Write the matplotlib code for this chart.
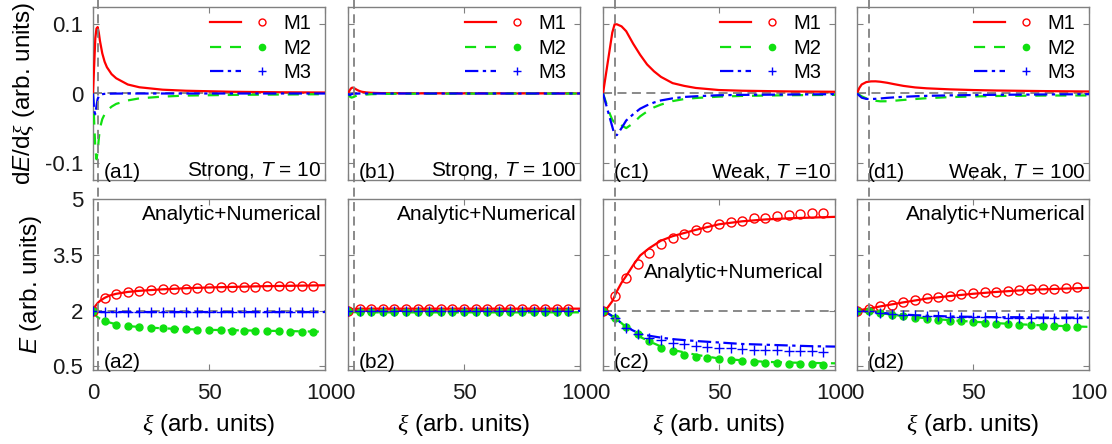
import numpy as np
import matplotlib
matplotlib.use("Agg")
import matplotlib.pyplot as plt
from matplotlib.lines import Line2D
from matplotlib.legend_handler import HandlerTuple
from matplotlib.transforms import blended_transform_factory

plt.rcParams["font.family"] = ["Liberation Sans", "DejaVu Sans"]
plt.rcParams["mathtext.fontset"] = "custom"
plt.rcParams["mathtext.rm"] = "Liberation Sans"
plt.rcParams["mathtext.it"] = "Liberation Sans:italic"
plt.rcParams["mathtext.sf"] = "Liberation Serif:italic"

FS_TICK = 16
FS_LABEL = 17.5
FS_TEXT = 15
FS_LEG = 14.5

# ---- top row: dE/dxi, analytic curves ----
xi_a1 = [0, 0.5, 1, 1.5, 2, 2.5, 3, 4, 5, 6, 8, 10, 15, 20, 30, 40, 60, 80, 100]
a1_m1 = [0, 0.04, 0.08, 0.094, 0.096, 0.088, 0.076, 0.058, 0.046, 0.038, 0.028,
         0.022, 0.013, 0.009, 0.0055, 0.004, 0.0025, 0.0018, 0.0014]
a1_m2 = [0, -0.04, -0.08, -0.095, -0.085, -0.065, -0.05, -0.037, -0.03, -0.025,
         -0.019, -0.015, -0.01, -0.007, -0.0045, -0.003, -0.002, -0.0015, -0.001]
a1_m3 = [0, -0.025, -0.03, -0.018, -0.008, -0.004, -0.002, -0.001, -0.0005,
         -0.0003, -0.0002, -0.0001, 0, 0, 0, 0, 0, 0, 0]

xi_b1 = xi_a1
b1_m1 = [0, 0.003, 0.006, 0.008, 0.0085, 0.008, 0.007, 0.005, 0.0035, 0.0025,
         0.0015, 0.001, 0.0005, 0.0003, 0.0002, 0.0002, 0.0001, 0.0001, 0.0001]
b1_m2 = [0, -0.003, -0.005, -0.006, -0.0055, -0.005, -0.004, -0.003, -0.0025,
         -0.002, -0.0015, -0.001, -0.0006, -0.0004, -0.0003, -0.0002, -0.0001,
         -0.0001, -0.0001]
b1_m3 = [0, -0.002, -0.002, -0.001, -0.0005, -0.0003, -0.0002, -0.0001, 0, 0,
         0, 0, 0, 0, 0, 0, 0, 0, 0]

xi_c1 = [0, 1, 2, 3, 4, 5, 6, 8, 10, 13, 16, 19, 22, 25, 30, 35, 40, 50, 60, 80, 100]
c1_m1 = [0, 0.022, 0.044, 0.066, 0.088, 0.1, 0.1, 0.097, 0.09, 0.072, 0.056,
         0.042, 0.032, 0.024, 0.015, 0.011, 0.008, 0.005, 0.004, 0.003, 0.0025]
c1_m2 = [0, -0.01, -0.02, -0.03, -0.038, -0.042, -0.04, -0.046, -0.05, -0.043,
         -0.033, -0.026, -0.02, -0.016, -0.011, -0.008, -0.0065, -0.0045,
         -0.0035, -0.0025, -0.002]
c1_m3 = [0, -0.012, -0.024, -0.036, -0.048, -0.06, -0.06, -0.05, -0.039, -0.03,
         -0.022, -0.017, -0.013, -0.01, -0.007, -0.005, -0.004, -0.0025, -0.002,
         -0.0015, -0.001]

xi_d1 = [0, 1, 2, 4, 6, 8, 10, 13, 16, 20, 25, 30, 40, 50, 60, 80, 100]
d1_m1 = [0, 0.008, 0.013, 0.0165, 0.0175, 0.0176, 0.017, 0.0155, 0.0135, 0.011,
         0.0088, 0.0075, 0.006, 0.005, 0.0043, 0.0035, 0.0029]
d1_m2 = [0, -0.002, -0.004, -0.007, -0.009, -0.0105, -0.0113, -0.0112, -0.0105,
         -0.0093, -0.008, -0.0068, -0.0052, -0.0043, -0.0036, -0.003, -0.0028]
d1_m3 = [0, -0.003, -0.006, -0.0078, -0.008, -0.0077, -0.0072, -0.0063, -0.0056,
         -0.0048, -0.004, -0.0034, -0.0027, -0.0022, -0.0019, -0.0014, -0.001]

# ---- bottom row: E, analytic curves ----
xi_a2 = [0, 1, 2, 3, 5, 7, 10, 15, 20, 30, 40, 50, 60, 70, 80, 90, 100]
a2_m1 = [2.0, 2.12, 2.2, 2.26, 2.34, 2.4, 2.45, 2.5, 2.53, 2.57, 2.6, 2.62, 2.635,
         2.65, 2.66, 2.67, 2.68]
a2_m2 = [2.0, 1.88, 1.82, 1.78, 1.72, 1.68, 1.63, 1.58, 1.56, 1.52, 1.5, 1.48,
         1.47, 1.46, 1.45, 1.44, 1.43]
a2_m3 = [2.0, 1.97, 1.96, 1.96, 1.96, 1.96, 1.96, 1.96, 1.96, 1.96, 1.96, 1.96,
         1.96, 1.96, 1.96, 1.96, 1.96]

xi_b2 = [0, 1, 2, 3, 5, 10, 20, 40, 60, 80, 100]
b2_m1 = [2.0, 2.02, 2.04, 2.045, 2.05, 2.05, 2.05, 2.05, 2.05, 2.05, 2.05]
b2_m2 = [2.0, 1.98, 1.96, 1.955, 1.95, 1.95, 1.95, 1.95, 1.95, 1.95, 1.95]
b2_m3 = [2.0, 1.99, 1.99, 1.99, 1.99, 1.99, 1.99, 1.99, 1.99, 1.99, 1.99]

xi_c2 = [0, 2, 4, 6, 8, 10, 13, 16, 20, 25, 30, 40, 50, 60, 70, 80, 90, 100]
c2_m1 = [2.0, 2.08, 2.25, 2.52, 2.75, 2.93, 3.22, 3.48, 3.68, 3.88, 4.0, 4.17,
         4.32, 4.4, 4.45, 4.48, 4.5, 4.52]
c2_m2 = [2.0, 1.93, 1.85, 1.76, 1.66, 1.55, 1.4, 1.29, 1.17, 1.03, 0.94, 0.81,
         0.71, 0.66, 0.62, 0.6, 0.59, 0.58]
c2_m3 = [2.0, 1.93, 1.85, 1.76, 1.66, 1.56, 1.46, 1.38, 1.32, 1.27, 1.23, 1.18,
         1.14, 1.1, 1.08, 1.06, 1.04, 1.03]

xi_d2 = [0, 5, 10, 20, 30, 40, 50, 60, 70, 80, 90, 100]
d2_m1 = [2.0, 2.05, 2.11, 2.22, 2.32, 2.39, 2.45, 2.5, 2.54, 2.57, 2.59, 2.61]
d2_m2 = [2.0, 1.97, 1.93, 1.85, 1.79, 1.74, 1.7, 1.66, 1.63, 1.6, 1.58, 1.56]
d2_m3 = [2.0, 1.97, 1.94, 1.89, 1.86, 1.84, 1.83, 1.82, 1.82, 1.81, 1.81, 1.81]

# ---- bottom row: E, numerical points (every 5 units) ----
xi_num = [0, 5, 10, 15, 20, 25, 30, 35, 40, 45, 50, 55, 60, 65, 70, 75, 80, 85, 90, 95]
a2_n1 = [2.0, 2.33, 2.45, 2.49, 2.52, 2.55, 2.57, 2.58, 2.59, 2.6, 2.61, 2.62,
         2.63, 2.64, 2.645, 2.65, 2.655, 2.66, 2.665, 2.67]
a2_n2 = [2.0, 1.71, 1.62, 1.58, 1.56, 1.53, 1.52, 1.51, 1.49, 1.48, 1.47, 1.47,
         1.46, 1.45, 1.45, 1.44, 1.44, 1.43, 1.43, 1.42]
a2_n3 = [2.0, 1.96, 1.96, 1.96, 1.96, 1.96, 1.96, 1.96, 1.96, 1.96, 1.96, 1.96,
         1.96, 1.96, 1.96, 1.96, 1.96, 1.96, 1.96, 1.96]
b2_n1 = [2.0, 2.045, 2.05, 2.05, 2.05, 2.05, 2.05, 2.05, 2.05, 2.05, 2.05, 2.05,
         2.05, 2.05, 2.05, 2.05, 2.05, 2.05, 2.05, 2.05]
b2_n2 = [2.0, 1.95, 1.95, 1.95, 1.95, 1.95, 1.95, 1.95, 1.95, 1.95, 1.95, 1.95,
         1.95, 1.95, 1.95, 1.95, 1.95, 1.95, 1.95, 1.95]
b2_n3 = [2.0, 1.99, 1.99, 1.99, 1.99, 1.99, 1.99, 1.99, 1.99, 1.99, 1.99, 1.99,
         1.99, 1.99, 1.99, 1.99, 1.99, 1.99, 1.99, 1.99]
c2_n1 = [2.0, 2.38, 2.87, 3.24, 3.55, 3.79, 3.95, 4.06, 4.17, 4.26, 4.32, 4.37,
         4.42, 4.48, 4.5, 4.54, 4.57, 4.59, 4.61, 4.63]
c2_n2 = [2.0, 1.8, 1.55, 1.38, 1.17, 0.99, 0.9, 0.8, 0.76, 0.72, 0.69, 0.66,
         0.63, 0.61, 0.6, 0.58, 0.57, 0.56, 0.55, 0.54]
c2_n3 = [2.0, 1.8, 1.54, 1.38, 1.27, 1.2, 1.13, 1.09, 1.05, 1.02, 1.0, 0.98,
         0.97, 0.95, 0.94, 0.93, 0.92, 0.91, 0.9, 0.89]
d2_n1 = [2.0, 2.04, 2.11, 2.16, 2.24, 2.28, 2.33, 2.36, 2.4, 2.44, 2.47, 2.5,
         2.51, 2.53, 2.55, 2.57, 2.58, 2.59, 2.61, 2.63]
d2_n2 = [2.0, 1.98, 1.92, 1.88, 1.84, 1.81, 1.78, 1.75, 1.73, 1.71, 1.69, 1.67,
         1.65, 1.64, 1.62, 1.6, 1.59, 1.58, 1.57, 1.56]
d2_n3 = [2.0, 1.98, 1.94, 1.91, 1.88, 1.87, 1.85, 1.84, 1.83, 1.83, 1.82, 1.82,
         1.82, 1.81, 1.81, 1.81, 1.81, 1.81, 1.81, 1.81]

panel_tags = ["a", "b", "c", "d"]
panel_titles = ["Strong, $T$ = 10", "Strong, $T$ = 100", "Weak, $T$ =10", "Weak, $T$ = 100"]
marker_xi = [2.3, 2.5, 5, 5]   # position of the vertical guide line

top_data = [(xi_a1, a1_m1, a1_m2, a1_m3), (xi_b1, b1_m1, b1_m2, b1_m3),
            (xi_c1, c1_m1, c1_m2, c1_m3), (xi_d1, d1_m1, d1_m2, d1_m3)]
bot_data = [(xi_a2, a2_m1, a2_m2, a2_m3), (xi_b2, b2_m1, b2_m2, b2_m3),
            (xi_c2, c2_m1, c2_m2, c2_m3), (xi_d2, d2_m1, d2_m2, d2_m3)]
num_data = [(a2_n1, a2_n2, a2_n3), (b2_n1, b2_n2, b2_n3),
            (c2_n1, c2_n2, c2_n3), (d2_n1, d2_n2, d2_n3)]

RED, GREEN, BLUE, GRAY = "#ff0000", "#10e010", "#0000ff", "#808080"
line_styles = [dict(color=RED, ls="-"),
               dict(color=GREEN, ls=(0, (5, 4))),
               dict(color=BLUE, ls=(0, (6, 2, 1.5, 2)))]
mark_styles = [dict(marker="o", mfc="none", mec=RED, ms=6.5, mew=1.0),
               dict(marker="o", mfc=GREEN, mec=GREEN, ms=5),
               dict(marker="+", mec=BLUE, ms=6.5, mew=1.0)]

W, H = 1112, 444
fig = plt.figure(figsize=(W / 100, H / 100), dpi=100)
lefts = [93, 348, 603, 857]
aw = 232


def style_axes(ax):
    for s in ax.spines.values():
        s.set_color(GRAY)
        s.set_linewidth(1.0)
    ax.tick_params(direction="in", top=True, right=True, length=4, color=GRAY,
                   labelcolor="#1a1a1a", labelsize=FS_TICK)
    ax.tick_params(axis="x", pad=9)
    ax.tick_params(axis="y", pad=7)
    ax.set_xlim(0, 100)
    ax.set_xticks([0, 50, 100])


for i in range(4):
    x0 = lefts[i] / W
    ax1 = fig.add_axes([x0, (H - 180) / H, aw / W, 173 / H])
    ax2 = fig.add_axes([x0, (H - 370) / H, aw / W, 171 / H])
    style_axes(ax1)
    style_axes(ax2)

    # top row
    xi, m1, m2, m3 = top_data[i]
    ax1.axhline(0, color=GRAY, lw=1.3, ls=(0, (5, 3)), zorder=1)
    lines = []
    for ys, st in zip((m1, m2, m3), line_styles):
        l, = ax1.plot(xi, ys, lw=1.6, zorder=3, **st)
        lines.append(l)
    ax1.set_ylim(-0.125, 0.125)
    ax1.set_yticks([-0.1, 0, 0.1])
    ax1.set_yticklabels(["-0.1", "0", "0.1"])
    ax1.tick_params(labelbottom=False)
    if i > 0:
        ax1.tick_params(labelleft=False)
    proxies = [Line2D([], [], ls="none", **ms) for ms in mark_styles]
    proxies[0].set_markersize(5)
    proxies[1].set_markersize(4.5)
    proxies[2].set_markersize(5.5)
    ax1.legend([(l, p) for l, p in zip(lines, proxies)], ["M1", "M2", "M3"],
               handler_map={tuple: HandlerTuple(ndivide=None, pad=0.3)},
               handlelength=3.3, handletextpad=0.3, labelspacing=0.28,
               frameon=False, loc="upper right", bbox_to_anchor=(1.0, 1.04),
               borderaxespad=0.3, fontsize=FS_LEG)
    ax1.text(0.045, -0.01, f"({panel_tags[i]}1)", transform=ax1.transAxes,
             ha="left", va="bottom", fontsize=FS_TEXT)
    ax1.text(0.985, -0.01, panel_titles[i], transform=ax1.transAxes,
             ha="right", va="bottom", fontsize=FS_TEXT)

    # bottom row
    xi, m1, m2, m3 = bot_data[i]
    n1, n2, n3 = num_data[i]
    ax2.axhline(2, color=GRAY, lw=1.3, ls=(0, (5, 3)), zorder=1)
    for ys, st in zip((m1, m2, m3), line_styles):
        ax2.plot(xi, ys, lw=1.6, zorder=3, **st)
    for ys, ms in zip((n1, n2, n3), mark_styles):
        ax2.plot(xi_num, ys, ls="none", zorder=4, **ms)
    ax2.set_ylim(0.4, 5)
    ax2.set_yticks([0.5, 2, 3.5, 5])
    ax2.set_yticklabels(["0.5", "2", "3.5", "5"])
    if i > 0:
        ax2.tick_params(labelleft=False)
    ax2.set_xlabel(r"$\mathsf{\xi}$ (arb. units)", fontsize=FS_LABEL, labelpad=6)
    ax2.text(0.045, -0.01, f"({panel_tags[i]}2)", transform=ax2.transAxes,
             ha="left", va="bottom", fontsize=FS_TEXT)
    if i == 2:
        ax2.text(0.95, 0.57, "Analytic+Numerical", transform=ax2.transAxes,
                 ha="right", va="center", fontsize=FS_TEXT)
    else:
        ax2.text(0.985, 0.91, "Analytic+Numerical", transform=ax2.transAxes,
                 ha="right", va="center", fontsize=FS_TEXT)

    if i == 0:
        ax1.set_ylabel(r"d$E$/d$\mathsf{\xi}$ (arb. units)", fontsize=FS_LABEL, labelpad=6)
        ax2.set_ylabel(r"$E$ (arb. units)", fontsize=FS_LABEL, labelpad=6)

    # vertical guide through both rows, reaching the top of the figure
    tr = blended_transform_factory(ax2.transData, fig.transFigure)
    fig.add_artist(Line2D([marker_xi[i], marker_xi[i]], [(H - 370) / H, 1.0],
                          transform=tr, color=GRAY, lw=1.3, ls=(0, (5, 3)),
                          zorder=5))

fig.savefig("out.png", dpi=100)
